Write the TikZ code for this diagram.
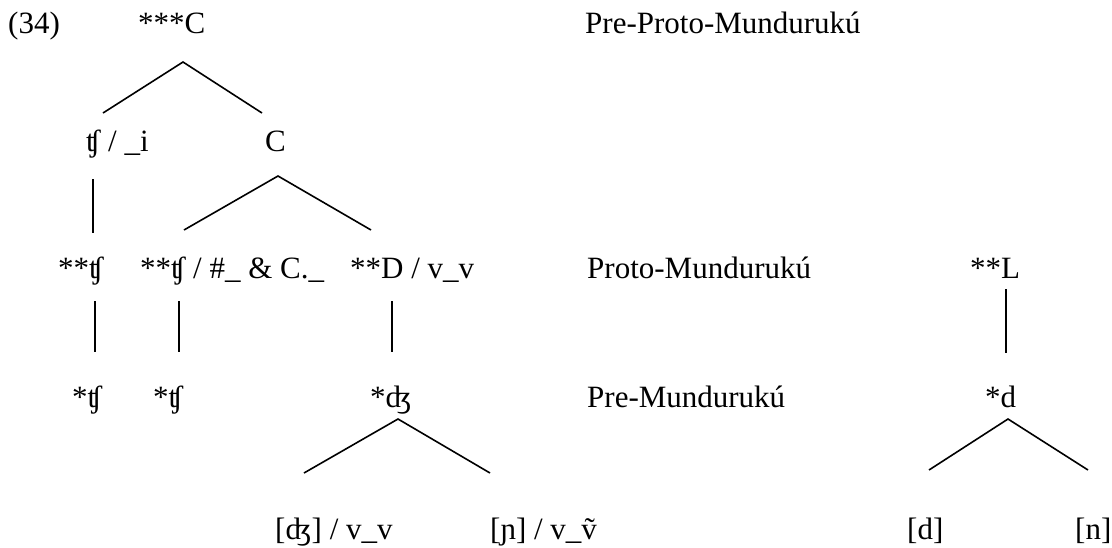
\documentclass[tikz,border=0pt]{standalone}
\usepackage{fontspec}
\setmainfont{Liberation Serif}
\usepackage{tikz}

\begin{document}
\begin{tikzpicture}[
        x=1pt, y=-1pt,
        lbl/.style={anchor=base west, inner sep=0pt, font=\fontsize{31pt}{37pt}\selectfont},
        branch/.style={line width=1.6pt}
    ]
        \useasboundingbox (0,0) rectangle (1112,547);

        % Rótulos
        \node[lbl] (ex) at (8,33) {(34)};
        \node[lbl] (root) at (138,33) {***C};
        \node[lbl] (ppm) at (585,33) {Pre-Proto-Mundurukú};

        \node[lbl] (chi) at (86,151) {ʧ / \_i};
        \node[lbl] (c) at (265,151) {C};

        \node[lbl] (pch) at (58,278) {**ʧ};
        \node[lbl] (pchb) at (140,278) {**ʧ / \#\_ \& C.\_};
        \node[lbl] (pd) at (350,278) {**D / v\_v};
        \node[lbl] (pm) at (587,278) {Proto-Mundurukú};
        \node[lbl] (pl) at (970,278) {**L};

        \node[lbl] (ch) at (72,407) {*ʧ};
        \node[lbl] (chb) at (153,407) {*ʧ};
        \node[lbl] (dzh) at (370,407) {*ʤ};
        \node[lbl] (prm) at (587,407) {Pre-Mundurukú};
        \node[lbl] (d) at (985,407) {*d};

        \node[lbl] (odzh) at (275,539) {[ʤ] / v\_v};
        \node[lbl] (onj) at (490,539) {[ɲ] / v\_ṽ};
        \node[lbl] (od) at (907,539) {[d]};
        \node[lbl] (on) at (1075,539) {[n]};

        % Pontos dos ramos
        \coordinate (root-t) at (183,62);
        \coordinate (chi-b) at (103,113);
        \coordinate (c-b) at (262,113);
        \coordinate (c-t) at (278,176);
        \coordinate (pchb-b) at (184,230);
        \coordinate (pd-b) at (371,230);
        \coordinate (chi-t) at (93,179);
        \coordinate (pch-b) at (93,233);
        \coordinate (pch-t) at (95,301);
        \coordinate (ch-b) at (95,352);
        \coordinate (pchb-t) at (179,301);
        \coordinate (chb-b) at (179,352);
        \coordinate (pd-t) at (392,301);
        \coordinate (dzh-b) at (392,352);
        \coordinate (pl-t) at (1006,289);
        \coordinate (d-b) at (1006,353);
        \coordinate (dzh-t) at (398,419);
        \coordinate (odzh-b) at (304,473);
        \coordinate (onj-b) at (490,473);
        \coordinate (d-t) at (1008,419);
        \coordinate (od-b) at (929,470);
        \coordinate (on-b) at (1088,470);

        % Ramos
        \draw[branch] (chi-b) -- (root-t) -- (c-b);
        \draw[branch] (pchb-b) -- (c-t) -- (pd-b);
        \draw[branch] (chi-t) -- (pch-b);
        \draw[branch] (pch-t) -- (ch-b);
        \draw[branch] (pchb-t) -- (chb-b);
        \draw[branch] (pd-t) -- (dzh-b);
        \draw[branch] (pl-t) -- (d-b);
        \draw[branch] (odzh-b) -- (dzh-t) -- (onj-b);
        \draw[branch] (od-b) -- (d-t) -- (on-b);

\end{tikzpicture}
\end{document}
